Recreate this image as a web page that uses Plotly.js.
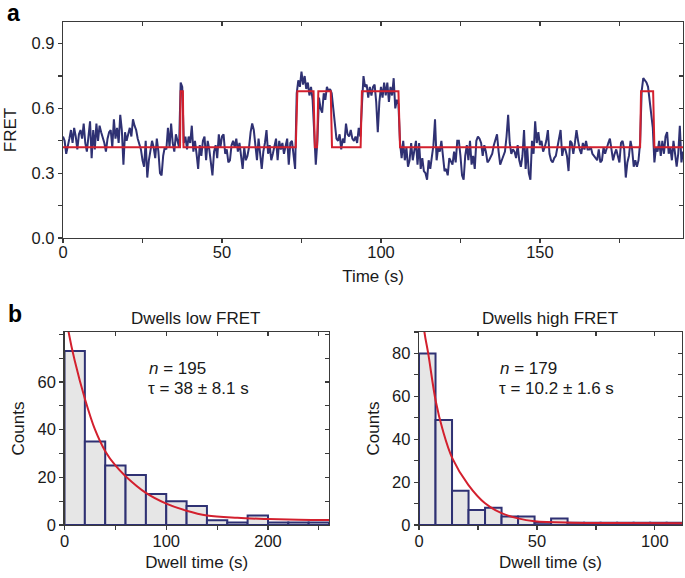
<!DOCTYPE html>
<html>
<head>
<meta charset="utf-8">
<script src="https://cdn.plot.ly/plotly-3.0.1.min.js"></script>
<style>html,body{margin:0;padding:0;background:#fff}#chart{width:685px;height:578px}</style>
</head>
<body>
<div id="chart"></div>
<script>
// ---------- DATA ----------
// Panel a: FRET trace sampled every 0.5 s starting at 0 s
const frameTime = 0.5;
const fretValues = [
 0.47,0.45,0.39,0.42,0.46,0.50,0.44,0.51,0.47,0.41,0.48,0.50,0.46,0.53,0.44,0.40,0.47,0.54,0.37,0.50,
 0.41,0.53,0.45,0.52,0.49,0.47,0.44,0.40,0.46,0.49,0.50,0.42,0.55,0.46,0.51,0.44,0.57,0.50,0.34,0.49,
 0.45,0.48,0.51,0.47,0.55,0.52,0.50,0.46,0.43,0.41,0.36,0.33,0.45,0.28,0.36,0.41,0.45,0.42,0.37,0.46,
 0.40,0.30,0.29,0.38,0.42,0.41,0.51,0.42,0.53,0.44,0.40,0.48,0.45,0.42,0.72,0.70,0.44,0.47,0.41,0.47,
 0.44,0.52,0.40,0.45,0.39,0.32,0.43,0.38,0.45,0.47,0.36,0.45,0.41,0.35,0.29,0.40,0.43,0.37,0.48,0.42,
 0.47,0.48,0.39,0.41,0.35,0.36,0.43,0.45,0.42,0.46,0.40,0.44,0.39,0.32,0.42,0.36,0.38,0.42,0.49,0.53,
 0.50,0.42,0.36,0.46,0.39,0.32,0.40,0.44,0.50,0.39,0.43,0.36,0.39,0.43,0.46,0.36,0.45,0.41,0.44,0.39,
 0.42,0.46,0.34,0.44,0.45,0.38,0.32,0.67,0.73,0.70,0.77,0.71,0.75,0.69,0.72,0.66,0.70,0.64,0.50,0.34,
 0.45,0.65,0.60,0.58,0.67,0.64,0.70,0.68,0.69,0.67,0.60,0.51,0.46,0.45,0.48,0.41,0.46,0.44,0.53,0.48,
 0.47,0.50,0.46,0.45,0.47,0.44,0.51,0.47,0.60,0.75,0.70,0.71,0.65,0.70,0.66,0.70,0.71,0.63,0.49,0.63,
 0.70,0.65,0.72,0.66,0.72,0.63,0.70,0.66,0.74,0.60,0.64,0.62,0.44,0.37,0.45,0.36,0.42,0.33,0.36,0.44,
 0.36,0.40,0.45,0.34,0.44,0.32,0.37,0.31,0.30,0.27,0.36,0.32,0.39,0.43,0.55,0.36,0.42,0.40,0.45,0.38,
 0.31,0.32,0.29,0.37,0.35,0.34,0.40,0.35,0.45,0.45,0.38,0.29,0.27,0.38,0.43,0.36,0.45,0.34,0.38,0.32,
 0.45,0.47,0.46,0.44,0.38,0.43,0.40,0.35,0.36,0.38,0.39,0.43,0.45,0.48,0.40,0.34,0.36,0.38,0.40,0.47,
 0.57,0.44,0.39,0.41,0.40,0.37,0.43,0.36,0.33,0.38,0.50,0.32,0.42,0.30,0.27,0.45,0.39,0.54,0.44,0.49,
 0.43,0.45,0.40,0.42,0.45,0.50,0.39,0.36,0.35,0.37,0.38,0.42,0.46,0.50,0.38,0.42,0.41,0.38,0.31,0.45,
 0.44,0.39,0.44,0.50,0.45,0.41,0.39,0.44,0.41,0.45,0.41,0.41,0.42,0.39,0.38,0.37,0.36,0.41,0.35,0.36,
 0.42,0.39,0.42,0.44,0.46,0.41,0.36,0.39,0.41,0.38,0.35,0.44,0.45,0.41,0.28,0.35,0.38,0.45,0.41,0.33,
 0.36,0.33,0.36,0.44,0.68,0.74,0.73,0.72,0.70,0.64,0.56,0.51,0.35,0.42,0.40,0.45,0.38,0.45,0.39,0.47,
 0.49,0.39,0.42,0.36,0.45,0.38,0.33,0.39,0.52,0.35,0.40
];
// Idealised (HMM) step fit: vertices of the red line
const fitTime  = [0, 36.8, 37.0, 37.7, 37.9, 73.2, 73.7, 78.8, 79.2, 79.9, 80.3, 84.2, 84.6, 93.6, 94.0, 105.5, 106.0, 181.5, 181.8, 185.6, 186.0, 195];
const fitLevel = [0.42,0.42,0.68,0.68,0.42,0.42,0.68,0.68,0.42,0.42,0.68,0.68,0.42,0.42,0.68,0.68,0.42,0.42,0.68,0.68,0.42,0.42];
const fretTicks = [0, 0.3, 0.6, 0.9];

// Panel b (left): dwell times in low FRET, 20 s bins
const lowBinStart = [0,20,40,60,80,100,120,140,160,180,200,220,240];
const lowCounts   = [73,35,25,21,13,10,8,2,1,4,1,1,1];
const lowBinWidth = 20;
const lowFitX = [0,4,10,20,30,40,50,60,80,100,120,140,170,200,230,262];
const lowFitY = [92,81,69,53,40,31,25,20.5,13.5,9,6,4,3,2.5,2.2,2.1];
const lowCountTicks = [0, 20, 40, 60];

// Panel b (right): dwell times in high FRET, 7 s bins
const highBinStart = [0,7,14,21,28,35,42,49,56,63,70,77,84,91,98,105];
const highCounts   = [80,49,16,7,8,4,4,1,3,1,1,1,1,1,1,1];
const highBinWidth = 7;
const highFitX = [0,2.3,3.9,7.1,10,14.1,20.9,28,35,42,49,65,85,112];
const highFitY = [115,90,80,57.7,44.5,31.2,18.7,10.1,5.5,3.1,1.8,1.1,0.9,0.8];

// ---------- STYLE ----------
const NAVY = '#2f3173';
const RED = '#d3202e';
const AXC = '#3a3a3a';
const FONT = 'Liberation Sans, Arial, Helvetica, sans-serif';
const FS = 16.5;
const TFS = 17;

function mainAxis(extra) {
  return Object.assign({
    showline: true, linecolor: AXC, linewidth: 1.3, mirror: true,
    ticks: 'outside', ticklen: 4, tickwidth: 1.2, tickcolor: AXC,
    showgrid: false, zeroline: false, tickmode: 'linear', tick0: 0,
    tickfont: {size: FS, color: '#1a1a1a', family: FONT},
    automargin: false, fixedrange: true
  }, extra);
}
function mirrorAxis(extra, minorDtick) {
  return Object.assign({
    showline: false, showgrid: false, zeroline: false, showticklabels: false,
    ticks: 'inside', ticklen: 4, tickwidth: 1.2, tickcolor: AXC,
    tickmode: 'linear', tick0: 0,
    minor: {dtick: minorDtick, tick0: 0, ticks: 'inside', ticklen: 4, tickwidth: 1.2, tickcolor: AXC, showgrid: false},
    automargin: false, fixedrange: true
  }, extra);
}
function minor(d) { return {tickmode: 'linear', dtick: d, tick0: 0, ticks: 'outside', ticklen: 4, tickwidth: 1.2, tickcolor: AXC, showgrid: false}; }

const traces = [
  {type: 'scatter', mode: 'lines', y: fretValues, x0: 0, dx: frameTime,
   line: {color: NAVY, width: 2}, xaxis: 'x', yaxis: 'y', hoverinfo: 'skip'},
  {type: 'scatter', mode: 'lines', x: fitTime, y: fitLevel,
   line: {color: RED, width: 2}, xaxis: 'x', yaxis: 'y', hoverinfo: 'skip'},

  {type: 'bar', x: lowBinStart, y: lowCounts, width: lowBinWidth, offset: 0,
   marker: {color: '#e6e6e6', line: {color: NAVY, width: 2}}, xaxis: 'x2', yaxis: 'y2', hoverinfo: 'skip'},
  {type: 'scatter', mode: 'lines', x: lowFitX, y: lowFitY, line: {color: RED, width: 2, shape: 'spline', smoothing: 1},
   xaxis: 'x2', yaxis: 'y2', hoverinfo: 'skip'},

  {type: 'bar', x: highBinStart, y: highCounts, width: highBinWidth, offset: 0,
   marker: {color: '#e6e6e6', line: {color: NAVY, width: 2}}, xaxis: 'x3', yaxis: 'y3', hoverinfo: 'skip'},
  {type: 'scatter', mode: 'lines', x: highFitX, y: highFitY, line: {color: RED, width: 2, shape: 'spline', smoothing: 1},
   xaxis: 'x3', yaxis: 'y3', hoverinfo: 'skip'},

  {type: 'scatter', x: [], y: [], xaxis: 'x4', yaxis: 'y4', hoverinfo: 'skip'},
  {type: 'scatter', x: [], y: [], xaxis: 'x5', yaxis: 'y5', hoverinfo: 'skip'},
  {type: 'scatter', x: [], y: [], xaxis: 'x6', yaxis: 'y6', hoverinfo: 'skip'}
];

const rA = [0, 195], rAy = [0, 1.0];
const rB = [0, 260], rBy = [0, 81];
const rC = [0, 111.5], rCy = [0, 90];
const titleFont = {size: TFS, color: '#1a1a1a', family: FONT};

const layout = {
  width: 685, height: 578,
  margin: {l: 0, r: 0, t: 0, b: 0},
  paper_bgcolor: '#fff', plot_bgcolor: '#fff',
  showlegend: false, barmode: 'overlay',
  font: {family: FONT, size: FS, color: '#1a1a1a'},

  xaxis: mainAxis({domain: [0.0920, 0.9971], anchor: 'y', range: rA, dtick: 50, minor: minor(25), ticklabelstandoff: -5,
    title: {text: 'Time (s)', font: titleFont, standoff: 10}}),
  yaxis: mainAxis({domain: [0.5882, 0.9619], anchor: 'x', range: rAy, tickmode: 'array', tickvals: fretTicks, tickformat: '.1f', minor: minor(0.15),
    title: {text: 'FRET', font: titleFont, standoff: 10}}),
  xaxis4: mirrorAxis({overlaying: 'x', side: 'top', anchor: 'y', range: rA, dtick: 50}, 25),
  yaxis4: mirrorAxis({overlaying: 'y', side: 'right', anchor: 'x', range: rAy, dtick: 0.3}, 0.15),

  xaxis2: mainAxis({domain: [0.0942, 0.4803], anchor: 'y2', range: rB, dtick: 100, minor: minor(50), ticklabelstandoff: -3,
    title: {text: 'Dwell time (s)', font: titleFont, standoff: 7}}),
  yaxis2: mainAxis({domain: [0.0917, 0.4256], anchor: 'x2', range: rBy, tickmode: 'array', tickvals: lowCountTicks, minor: minor(10),
    title: {text: 'Counts', font: titleFont, standoff: 8}}),
  xaxis5: mirrorAxis({overlaying: 'x2', side: 'top', anchor: 'y2', range: rB, dtick: 100}, 50),
  yaxis5: mirrorAxis({overlaying: 'y2', side: 'right', anchor: 'x2', range: rBy, dtick: 20}, 10),

  xaxis3: mainAxis({domain: [0.6117, 0.9956], anchor: 'y3', range: rC, dtick: 50, minor: minor(25), ticklabelstandoff: -3,
    title: {text: 'Dwell time (s)', font: titleFont, standoff: 7}}),
  yaxis3: mainAxis({domain: [0.0917, 0.4256], anchor: 'x3', range: rCy, dtick: 20, minor: minor(10),
    title: {text: 'Counts', font: titleFont, standoff: 8}}),
  xaxis6: mirrorAxis({overlaying: 'x3', side: 'top', anchor: 'y3', range: rC, dtick: 50}, 25),
  yaxis6: mirrorAxis({overlaying: 'y3', side: 'right', anchor: 'x3', range: rCy, dtick: 20}, 10),

  annotations: [
    {text: '<b>a</b>', xref: 'paper', yref: 'paper', x: 5/685, y: 1 - 13/578, xanchor: 'left', yanchor: 'middle',
     showarrow: false, font: {size: 23, family: FONT, color: '#000'}},
    {text: '<b>b</b>', xref: 'paper', yref: 'paper', x: 6/685, y: 1 - 314/578, xanchor: 'left', yanchor: 'middle',
     showarrow: false, font: {size: 23, family: FONT, color: '#000'}},
    {text: 'Dwells low FRET', xref: 'paper', yref: 'paper', x: 196/685, y: 1 - 318/578, xanchor: 'center', yanchor: 'middle',
     showarrow: false, font: titleFont},
    {text: 'Dwells high FRET', xref: 'paper', yref: 'paper', x: 550/685, y: 1 - 318/578, xanchor: 'center', yanchor: 'middle',
     showarrow: false, font: titleFont},
    {text: '<i>n</i> = 195', xref: 'paper', yref: 'paper', x: 147/685, y: 1 - 368/578, xanchor: 'left', yanchor: 'middle',
     showarrow: false, font: titleFont},
    {text: 'τ = 38 ± 8.1 s', xref: 'paper', yref: 'paper', x: 146/685, y: 1 - 388/578, xanchor: 'left', yanchor: 'middle',
     showarrow: false, font: titleFont},
    {text: '<i>n</i> = 179', xref: 'paper', yref: 'paper', x: 498/685, y: 1 - 368/578, xanchor: 'left', yanchor: 'middle',
     showarrow: false, font: titleFont},
    {text: 'τ = 10.2 ± 1.6 s', xref: 'paper', yref: 'paper', x: 497/685, y: 1 - 388/578, xanchor: 'left', yanchor: 'middle',
     showarrow: false, font: titleFont}
  ]
};

Plotly.newPlot('chart', traces, layout, {staticPlot: true, displayModeBar: false});
</script>
</body>
</html>
